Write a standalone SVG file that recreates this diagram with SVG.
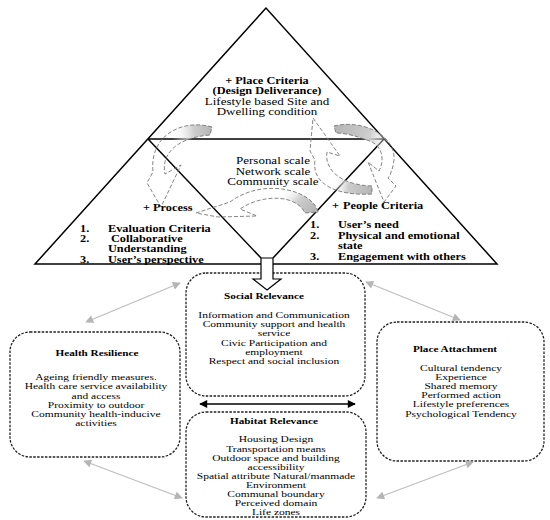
<svg xmlns="http://www.w3.org/2000/svg" width="550" height="520" viewBox="0 0 550 520">
<style>
  text { font-family: "Liberation Serif", "Times New Roman", serif; fill: #000; }
  .tb { font-size: 12.3px; font-weight: bold; }
  .tr { font-size: 13px; }
  .bt { font-size: 11.2px; font-weight: bold; text-anchor: middle; }
  .br { font-size: 11.5px; text-anchor: middle; }
  .mid { text-anchor: middle; }
  .box { fill: #fff; stroke: #222; stroke-width: 1.3; stroke-dasharray: 2.5 1.4; }
  .tri { fill: none; stroke: #000; stroke-width: 1.5; }
  .curve { stroke: #777; stroke-width: 0.9; stroke-dasharray: 4 2; }
  .garrow { stroke: #bdbdbd; stroke-width: 1.1; fill: none; marker-start: url(#gh); marker-end: url(#gh); }
  .karrow { stroke: #000; stroke-width: 1.3; fill: none; marker-start: url(#kh); marker-end: url(#kh); }
</style>
<defs>
  <marker id="gh" viewBox="0 0 10 10" refX="9" refY="5" markerWidth="9" markerHeight="8" markerUnits="userSpaceOnUse" orient="auto-start-reverse">
    <path d="M0,0 L10,5 L0,10 Z" fill="#b5b5b5"/>
  </marker>
  <marker id="kh" viewBox="0 0 10 10" refX="9" refY="5" markerWidth="9" markerHeight="8" markerUnits="userSpaceOnUse" orient="auto-start-reverse">
    <path d="M0,0 L10,5 L0,10 Z" fill="#000"/>
  </marker>
  <linearGradient id="gL" gradientUnits="userSpaceOnUse" x1="212" y1="130" x2="172" y2="133">
    <stop offset="0" stop-color="#b4b4b4"/><stop offset="0.45" stop-color="#cdcdcd"/><stop offset="1" stop-color="#fff" stop-opacity="0"/>
  </linearGradient>
  <linearGradient id="gB" gradientUnits="userSpaceOnUse" x1="313" y1="214" x2="284" y2="188">
    <stop offset="0" stop-color="#b4b4b4"/><stop offset="0.5" stop-color="#cdcdcd"/><stop offset="1" stop-color="#fff" stop-opacity="0"/>
  </linearGradient>
  <linearGradient id="gR1" gradientUnits="userSpaceOnUse" x1="334" y1="128" x2="390" y2="148">
    <stop offset="0" stop-color="#b4b4b4"/><stop offset="0.6" stop-color="#cdcdcd"/><stop offset="1" stop-color="#fff" stop-opacity="0"/>
  </linearGradient>
  <linearGradient id="gR2" gradientUnits="userSpaceOnUse" x1="373" y1="190" x2="332" y2="184">
    <stop offset="0" stop-color="#b4b4b4"/><stop offset="0.6" stop-color="#cdcdcd"/><stop offset="1" stop-color="#fff" stop-opacity="0"/>
  </linearGradient>
</defs>

<rect width="550" height="520" fill="#fff"/>

<g id="triangle">
  <polygon class="tri" points="266,8 35,264 497,264"/>
  <line class="tri" x1="148" y1="139" x2="384" y2="139"/>
  <line class="tri" x1="148" y1="139" x2="261" y2="258"/>
  <line class="tri" x1="384" y1="139" x2="273" y2="258"/>
</g>

<g id="cycle-arrows">
  <path class="curve" fill="url(#gL)" d="M212,127 C185,119 149,133 153,172 L147,183 L161,207 L181,165 L165,174 C161,157 173,138 210,135 Z"/>
  <path class="curve" fill="url(#gB)" d="M318,212 C313,190 263,177 230,202 L196,213 L218,217 L257,216 L240,209 C262,194 296,194 305,213 Z"/>
  <path class="curve" fill="url(#gR1)" d="M334,126 C362,119 396,135 394,160 C393,168 391,174 388,178 L396,186 L384,202 L368,162 L379,171 C385,160 382,147 372,142 C360,137 346,133 336,133 Z"/>
  <path class="curve" fill="url(#gR2)" d="M372,194 C340,196 311,186 315,160 L310,151 L313,118 L340,156 L327,152 C324,169 340,185 372,186 Z"/>
</g>

<g id="place-criteria">
  <g transform="scale(1,0.79)">
    <text class="tb mid" x="267" y="106.33">+ Place Criteria</text>
    <text class="tb mid" x="267" y="119.49">(Design Deliverance)</text>
    <text class="tr mid" x="267" y="132.66">Lifestyle based Site and</text>
    <text class="tr mid" x="267" y="145.82">Dwelling condition</text>
  </g>
</g>

<g id="scales">
  <g transform="scale(1,0.79)">
    <text class="tr mid" x="273" y="208.23">Personal scale</text>
    <text class="tr mid" x="273" y="221.52">Network scale</text>
    <text class="tr mid" x="273" y="234.81">Community scale</text>
  </g>
</g>

<g id="process">
  <g transform="scale(1,0.79)">
    <text class="tb" x="143" y="267.09">+ Process</text>
    <text class="tb" x="80" y="293.67">1.</text>
    <text class="tb" x="108" y="293.67">Evaluation Criteria</text>
    <text class="tb" x="80" y="306.58">2.</text>
    <text class="tb" x="111" y="306.58">Collaborative</text>
    <text class="tb" x="108" y="319.49">Understanding</text>
    <text class="tb" x="80" y="332.41">3.</text>
    <text class="tb" x="108" y="332.41">User’s perspective</text>
  </g>
</g>

<g id="people-criteria">
  <g transform="scale(1,0.79)">
    <text class="tb" x="332" y="264.56">+</text>
    <text class="tb" x="343" y="264.56">People Criteria</text>
    <text class="tb" x="310" y="289.24">1.</text>
    <text class="tb" x="338" y="289.24">User’s need</text>
    <text class="tb" x="310" y="302.53">2.</text>
    <text class="tb" x="338" y="302.53">Physical and emotional</text>
    <text class="tb" x="338" y="315.82">state</text>
    <text class="tb" x="310" y="329.11">3.</text>
    <text class="tb" x="338" y="329.11">Engagement with others</text>
  </g>
</g>

<g id="social-relevance">
  <rect class="box" x="186" y="273" width="179" height="123" rx="20"/>
  <g transform="scale(1,0.79)">
    <text class="bt" x="264" y="379.11">Social Relevance</text>
    <text class="br" x="274" y="402.28">Information and Communication</text>
    <text class="br" x="274" y="414.11">Community support and health</text>
    <text class="br" x="274" y="425.93">service</text>
    <text class="br" x="274" y="437.75">Civic Participation and</text>
    <text class="br" x="274" y="449.57">employment</text>
    <text class="br" x="274" y="461.39">Respect and social inclusion</text>
  </g>
</g>

<g id="health-resilience">
  <rect class="box" x="10" y="332" width="170" height="125" rx="20"/>
  <g transform="scale(1,0.79)">
    <text class="bt" x="97" y="450.89">Health Resilience</text>
    <text class="br" x="96" y="481.27">Ageing friendly measures.</text>
    <text class="br" x="96" y="492.91">Health care service availability</text>
    <text class="br" x="96" y="504.56">and access</text>
    <text class="br" x="96" y="516.2">Proximity to outdoor</text>
    <text class="br" x="96" y="527.85">Community health-inducive</text>
    <text class="br" x="96" y="539.49">activities</text>
  </g>
</g>

<g id="place-attachment">
  <rect class="box" x="377" y="322" width="167" height="139" rx="20"/>
  <g transform="scale(1,0.79)">
    <text class="bt" x="455" y="446.2">Place Attachment</text>
    <text class="br" x="461" y="469.0">Cultural tendency</text>
    <text class="br" x="461" y="480.63">Experience</text>
    <text class="br" x="461" y="492.28">Shared memory</text>
    <text class="br" x="461" y="503.92">Performed action</text>
    <text class="br" x="461" y="515.57">Lifestyle preferences</text>
    <text class="br" x="461" y="527.22">Psychological Tendency</text>
  </g>
</g>

<g id="habitat-relevance">
  <rect class="box" x="186" y="412" width="180" height="105" rx="20"/>
  <g transform="scale(1,0.79)">
    <text class="bt" x="274" y="536.71">Habitat Relevance</text>
    <text class="br" x="276" y="560.13">Housing Design</text>
    <text class="br" x="276" y="571.65">Transportation means</text>
    <text class="br" x="276" y="583.14">Outdoor space and building</text>
    <text class="br" x="276" y="594.65">accessibility</text>
    <text class="br" x="276" y="606.15">Spatial attribute Natural/manmade</text>
    <text class="br" x="276" y="617.66">Environment</text>
    <text class="br" x="276" y="629.17">Communal boundary</text>
    <text class="br" x="276" y="640.67">Perceived domain</text>
    <text class="br" x="276" y="652.18">Life zones</text>
  </g>
</g>

<g id="connectors">
  <polygon points="261,258 273,258 273,279 281,279 267,290 253,279 261,279" fill="#fff" stroke="#000" stroke-width="1.2"/>
  <line class="garrow" x1="180" y1="283" x2="86" y2="322"/>
  <line class="garrow" x1="366" y1="282" x2="460" y2="320"/>
  <line class="garrow" x1="84" y1="461" x2="182" y2="498"/>
  <line class="garrow" x1="473" y1="462" x2="377" y2="498"/>
  <line class="karrow" x1="200" y1="404" x2="355" y2="404"/>
</g>
</svg>
